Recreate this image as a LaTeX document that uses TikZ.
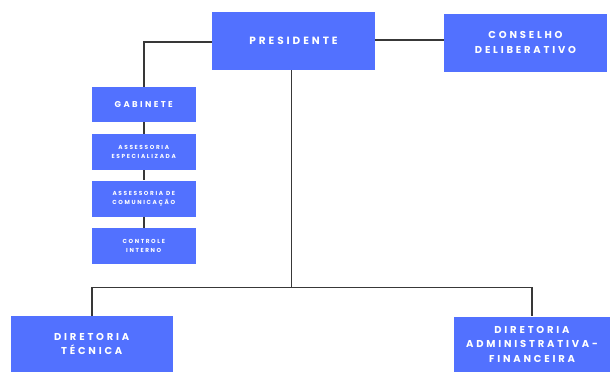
\documentclass[tikz,border=0pt]{standalone}
\usepackage{fontspec}
\newfontfamily\pf{Poppins}[LetterSpace=28]
\definecolor{boxblue}{HTML}{5271FF}
\definecolor{linegray}{HTML}{383838}
\begin{document}
\begin{tikzpicture}[x=1pt,y=-1pt,
  box/.style={rectangle, fill=boxblue, inner sep=0pt, text=white, align=center, font=\pf\bfseries},
  conn/.style={draw=linegray, line width=1.5pt}]
\useasboundingbox (0,0) rectangle (610,372);
\node[box, minimum width=163pt, minimum height=58pt, font=\pf\bfseries\fontsize{10.5}{12}\selectfont] (pres) at (293.5,41) {PRESIDENTE};
\node[box, minimum width=163pt, minimum height=58pt, font=\pf\bfseries\fontsize{10}{15}\selectfont] (cons) at (525.5,42.5) {CONSELHO\\DELIBERATIVO};
\node[box, minimum width=104.5pt, minimum height=35pt, font=\pf\bfseries\fontsize{8.5}{9}\selectfont] (gab) at (143.75,104.5) {GABINETE};
\node[box, minimum width=104.5pt, minimum height=36pt, font=\pf\bfseries\fontsize{5.8}{9}\selectfont] (esp) at (143.75,152) {ASSESSORIA\\ESPECIALIZADA};
\node[box, minimum width=104.5pt, minimum height=36pt, font=\pf\bfseries\fontsize{5.8}{9}\selectfont] (com) at (143.75,198.5) {ASSESSORIA DE\\COMUNICAÇÃO};
\node[box, minimum width=104.5pt, minimum height=36pt, font=\pf\bfseries\fontsize{5.8}{9}\selectfont] (ctrl) at (143.75,246) {CONTROLE\\INTERNO};
\node[box, minimum width=162.5pt, minimum height=56pt, font=\pf\bfseries\fontsize{10}{14.7}\selectfont] (dtec) at (91.75,344) {DIRETORIA\\TÉCNICA};
\node[box, minimum width=156pt, minimum height=55.5pt, font=\pf\bfseries\fontsize{10}{14.5}\selectfont] (dadm) at (532,344.25) {DIRETORIA\\ADMINISTRATIVA-\\FINANCEIRA};
\coordinate (hub) at (291.4,287.3);
\coordinate (lt) at (144,42);
\draw[conn] (pres.west |- lt) -| (gab.north);
\draw[conn] (pres.east |- 0,40) -- (cons.west |- 0,40);
\draw[conn] (gab.south) -- (esp.north);
\draw[conn] (esp.south) -- (com.north);
\draw[conn] (com.south) -- (ctrl.north);
\draw[conn] (pres.south -| hub) -- (hub);
\draw[conn] (dtec.north) |- (hub) -| (dadm.north);
\end{tikzpicture}
\end{document}
